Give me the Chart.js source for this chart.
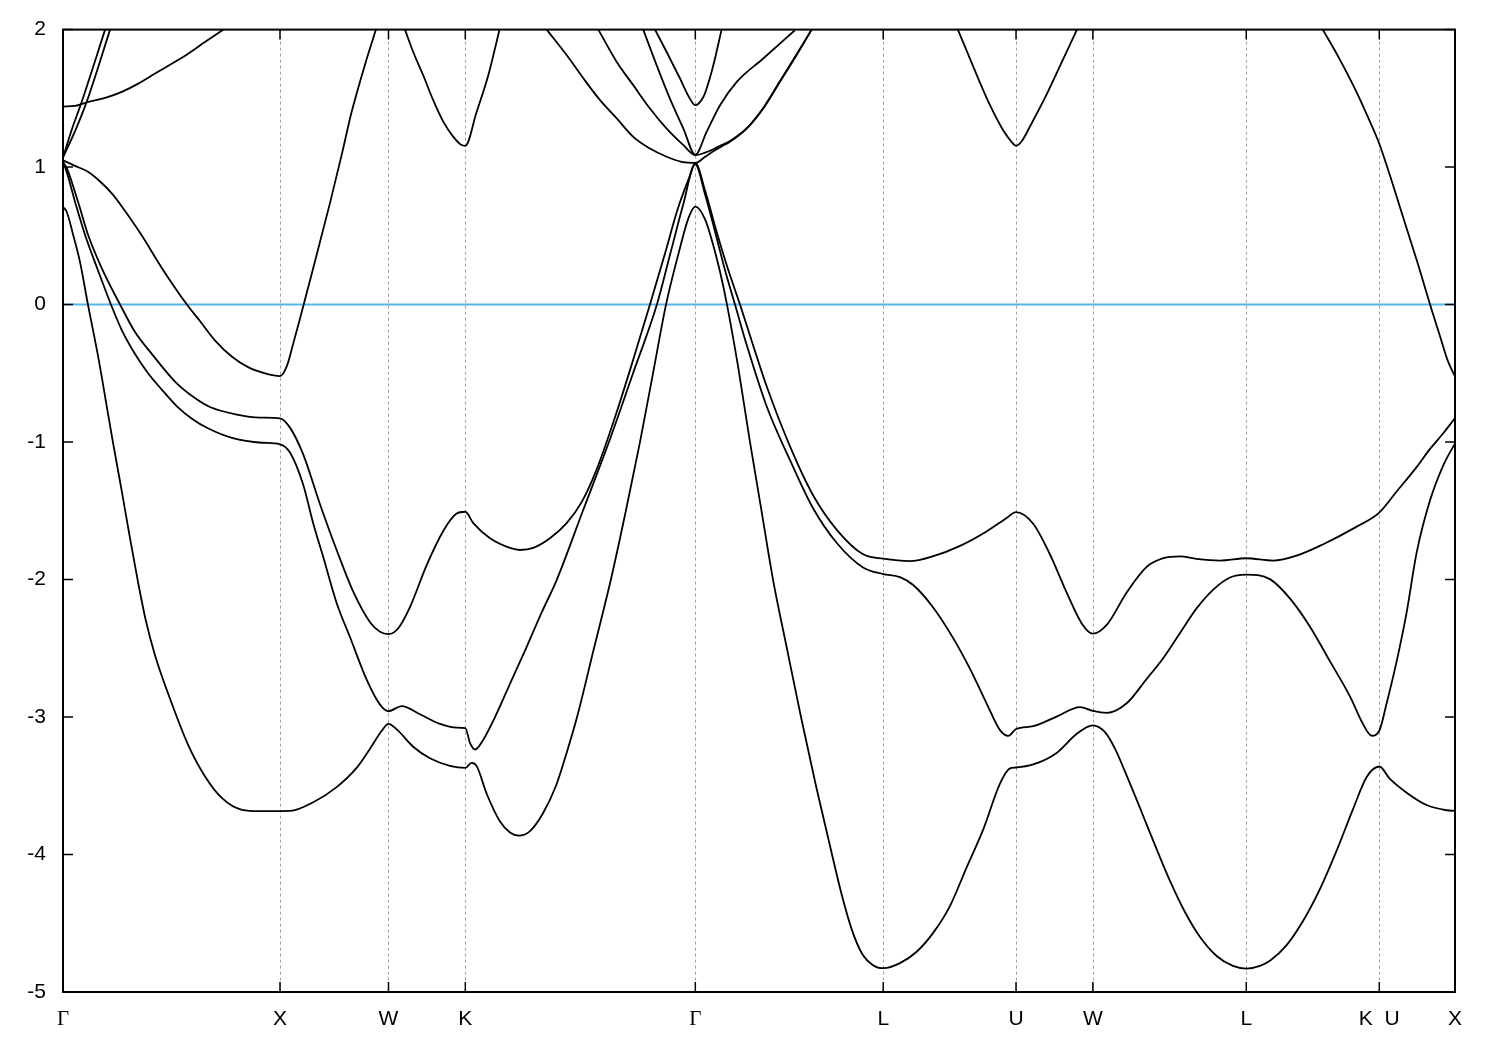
<!DOCTYPE html>
<html>
<head>
<meta charset="utf-8">
<title>Band structure</title>
<script src="https://cdn.jsdelivr.net/npm/chart.js@4.4.1/dist/chart.umd.min.js"></script>
<style>
  html, body { margin: 0; background: #fff; }
  #wrap { width: 1500px; height: 1050px; }
</style>
</head>
<body>
<div id="wrap"><canvas id="bands" width="1500" height="1050"></canvas></div>
<script>
'use strict';

// k-path (high symmetry points) and labels
const kTicks = [0, 1.0, 1.5, 1.854, 2.914, 3.78, 4.392, 4.746, 5.453, 6.066, 6.415];
const kLabels = ['Γ', 'X', 'W', 'K', 'Γ', 'L', 'U', 'W', 'L', 'K  U', 'X'];
const eMin = -5;
const eMax = 2;
const fermiLevel = 0;

// bands as [k, E] pairs
const band1 = [
  [0, 0.71], [0.017, 0.675], [0.047, 0.506], [0.078, 0.312], [0.115, 0.0], [0.161, -0.37],
  [0.207, -0.79], [0.23, -1.0], [0.27, -1.35], [0.309, -1.7], [0.346, -2.02], [0.382, -2.3],
  [0.424, -2.55], [0.501, -2.9], [0.576, -3.2], [0.654, -3.43], [0.733, -3.59], [0.825, -3.675],
  [0.908, -3.685], [1.0, -3.684],
  [1.046, -3.683], [1.153, -3.62], [1.261, -3.51], [1.353, -3.37], [1.415, -3.23], [1.469, -3.10],
  [1.5, -3.05], [1.538, -3.09], [1.614, -3.216], [1.691, -3.30], [1.783, -3.355], [1.854, -3.37],
  [1.883, -3.333], [1.906, -3.355], [1.953, -3.56], [2.014, -3.76], [2.06, -3.84], [2.101, -3.863],
  [2.152, -3.83], [2.212, -3.70], [2.272, -3.5], [2.323, -3.25], [2.369, -3.0], [2.447, -2.5],
  [2.525, -2.0], [2.594, -1.5], [2.659, -1.0], [2.719, -0.5], [2.779, 0.0], [2.843, 0.41],
  [2.882, 0.627], [2.914, 0.712],
  [2.959, 0.62], [2.997, 0.43], [3.035, 0.19], [3.06, 0.0], [3.111, -0.45], [3.166, -1.0],
  [3.217, -1.48], [3.272, -2.0], [3.336, -2.5], [3.401, -3.0], [3.47, -3.5], [3.544, -4.0],
  [3.59, -4.3], [3.636, -4.55], [3.682, -4.72], [3.733, -4.805], [3.78, -4.827],
  [3.857, -4.79], [3.934, -4.707], [4.011, -4.568], [4.088, -4.373], [4.164, -4.095], [4.241, -3.817],
  [4.318, -3.484], [4.364, -3.373], [4.392, -3.367], [4.471, -3.345], [4.579, -3.261], [4.671, -3.123],
  [4.746, -3.06], [4.802, -3.11], [4.848, -3.23], [4.903, -3.43], [4.963, -3.66], [5.032, -3.93],
  [5.101, -4.19], [5.171, -4.42], [5.24, -4.6], [5.318, -4.74], [5.392, -4.81], [5.453, -4.83],
  [5.516, -4.81], [5.562, -4.773], [5.639, -4.659], [5.716, -4.48], [5.793, -4.25], [5.87, -3.97],
  [5.946, -3.666], [6.008, -3.436], [6.066, -3.36], [6.115, -3.45], [6.192, -3.55], [6.284, -3.64],
  [6.376, -3.678], [6.415, -3.683]
];

const band2 = [
  [0, 1.03], [0.014, 0.98], [0.055, 0.75], [0.101, 0.51], [0.161, 0.25], [0.221, 0.0],
  [0.272, -0.19], [0.332, -0.36], [0.392, -0.5], [0.456, -0.62], [0.525, -0.74], [0.594, -0.83],
  [0.668, -0.9], [0.779, -0.97], [0.917, -1.005], [1.0, -1.016],
  [1.046, -1.076], [1.107, -1.31], [1.153, -1.59], [1.2, -1.84], [1.261, -2.17], [1.323, -2.42],
  [1.4, -2.73], [1.461, -2.91], [1.5, -2.958], [1.561, -2.92], [1.645, -2.98], [1.737, -3.05],
  [1.814, -3.077], [1.854, -3.08], [1.876, -3.19], [1.899, -3.236], [1.935, -3.17], [1.991, -3.0],
  [2.065, -2.74], [2.134, -2.5], [2.203, -2.25], [2.276, -2.0], [2.396, -1.5], [2.516, -1.0],
  [2.627, -0.5], [2.737, 0.0], [2.797, 0.36], [2.857, 0.72], [2.914, 1.02],
  [2.959, 0.8], [3.005, 0.53], [3.051, 0.25], [3.097, 0.0], [3.152, -0.3], [3.244, -0.745],
  [3.35, -1.13], [3.456, -1.48], [3.567, -1.736], [3.687, -1.912], [3.78, -1.96],
  [3.857, -1.983], [3.918, -2.04], [4.011, -2.205], [4.103, -2.428], [4.18, -2.65], [4.256, -2.90],
  [4.318, -3.095], [4.356, -3.137], [4.392, -3.087], [4.471, -3.067], [4.579, -2.997], [4.687, -2.928],
  [4.746, -2.956], [4.81, -2.97], [4.902, -2.90], [4.994, -2.723], [5.071, -2.57], [5.147, -2.39],
  [5.224, -2.21], [5.301, -2.073], [5.378, -1.985], [5.453, -1.964], [5.562, -1.997], [5.654, -2.137],
  [5.746, -2.341], [5.839, -2.595], [5.931, -2.85], [5.992, -3.054], [6.031, -3.136], [6.066, -3.10],
  [6.1, -2.90], [6.146, -2.595], [6.192, -2.24], [6.238, -1.806], [6.3, -1.424], [6.361, -1.169],
  [6.415, -1.01]
];

const band3 = [
  [0, 1.04], [0.018, 0.99], [0.069, 0.75], [0.115, 0.51], [0.18, 0.26], [0.263, 0.0],
  [0.332, -0.2], [0.41, -0.36], [0.516, -0.56], [0.608, -0.68], [0.677, -0.745], [0.802, -0.8],
  [0.908, -0.822], [1.0, -0.828],
  [1.046, -0.895], [1.107, -1.09], [1.184, -1.45], [1.261, -1.785], [1.338, -2.09], [1.415, -2.31],
  [1.461, -2.38], [1.5, -2.397], [1.545, -2.354], [1.599, -2.20], [1.676, -1.895], [1.753, -1.645],
  [1.814, -1.52], [1.854, -1.507], [1.891, -1.59], [1.968, -1.70], [2.06, -1.77], [2.106, -1.785],
  [2.167, -1.77], [2.244, -1.70], [2.321, -1.59], [2.39, -1.437], [2.459, -1.20], [2.552, -0.78],
  [2.628, -0.40], [2.705, 0.0], [2.774, 0.37], [2.834, 0.70], [2.885, 0.92], [2.914, 1.03],
  [2.959, 0.83], [3.005, 0.57], [3.06, 0.28], [3.12, 0.0], [3.175, -0.27], [3.244, -0.6],
  [3.35, -1.03], [3.456, -1.385], [3.567, -1.64], [3.687, -1.816], [3.78, -1.848],
  [3.903, -1.866], [4.011, -1.83], [4.134, -1.755], [4.256, -1.65], [4.349, -1.552], [4.392, -1.51],
  [4.471, -1.594], [4.548, -1.816], [4.625, -2.094], [4.694, -2.317], [4.746, -2.394], [4.81, -2.33],
  [4.902, -2.094], [4.994, -1.908], [5.071, -1.845], [5.147, -1.831], [5.224, -1.85], [5.332, -1.862],
  [5.453, -1.845], [5.577, -1.862], [5.685, -1.826], [5.808, -1.743], [5.962, -1.615], [6.066, -1.513],
  [6.146, -1.36], [6.238, -1.182], [6.3, -1.05], [6.359, -0.94], [6.415, -0.826]
];

// upper bands only show up in pieces below the top of the window
const band4a = [
  [0, 1.05], [0.055, 1.009], [0.115, 0.966], [0.161, 0.91], [0.23, 0.8], [0.286, 0.68],
  [0.364, 0.5], [0.456, 0.265], [0.571, 0.0], [0.631, -0.12], [0.7, -0.26], [0.779, -0.38],
  [0.853, -0.455], [0.931, -0.5], [1.0, -0.52], [1.031, -0.45], [1.061, -0.284], [1.092, -0.103],
  [1.153, 0.264], [1.23, 0.736], [1.284, 1.087], [1.33, 1.40], [1.4, 1.789], [1.442, 2.0]
];
const band4b = [
  [1.576, 2.0], [1.614, 1.837], [1.66, 1.668], [1.706, 1.487], [1.753, 1.329], [1.799, 1.22],
  [1.837, 1.16], [1.854, 1.155], [1.906, 1.40], [1.96, 1.668], [2.011, 1.995]
];
const band4c = [
  [2.229, 2.0], [2.321, 1.815], [2.398, 1.646], [2.475, 1.487], [2.552, 1.354], [2.628, 1.22],
  [2.705, 1.135], [2.782, 1.075], [2.851, 1.038], [2.914, 1.03], [2.959, 1.075], [2.997, 1.115],
  [3.035, 1.15], [3.074, 1.185], [3.151, 1.28], [3.227, 1.426], [3.304, 1.62], [3.381, 1.815],
  [3.45, 2.0]
];
const band4d = [
  [4.124, 2.0], [4.203, 1.70], [4.272, 1.45], [4.332, 1.27], [4.373, 1.18], [4.392, 1.155],
  [4.419, 1.19], [4.461, 1.31], [4.521, 1.49], [4.59, 1.72], [4.673, 2.0]
];
const band4e = [
  [5.806, 2.0], [5.885, 1.78], [5.963, 1.54], [6.023, 1.33], [6.066, 1.17], [6.115, 0.94],
  [6.161, 0.71], [6.207, 0.48], [6.253, 0.25], [6.3, 0.0], [6.346, -0.23], [6.382, -0.41],
  [6.415, -0.523]
];
const band5a = [[0, 1.07], [0.04, 1.27], [0.086, 1.474], [0.194, 2.0]];
const band5b = [
  [2.467, 2.0], [2.552, 1.765], [2.628, 1.596], [2.705, 1.426], [2.782, 1.28], [2.859, 1.16],
  [2.914, 1.087], [2.959, 1.105], [2.997, 1.13], [3.035, 1.16], [3.074, 1.19], [3.151, 1.283],
  [3.227, 1.43], [3.304, 1.624], [3.381, 1.82], [3.45, 2.0]
];
const band6a = [[0, 1.07], [0.055, 1.26], [0.109, 1.474], [0.217, 2.0]];
const band6b = [
  [2.674, 2.0], [2.736, 1.74], [2.797, 1.498], [2.859, 1.28], [2.914, 1.09], [2.966, 1.256],
  [3.028, 1.45], [3.105, 1.62], [3.227, 1.79], [3.373, 1.995]
];
const band7a = [
  [0, 1.44], [0.055, 1.445], [0.088, 1.46], [0.117, 1.474], [0.194, 1.503], [0.271, 1.547],
  [0.347, 1.607], [0.424, 1.68], [0.501, 1.752], [0.577, 1.825], [0.654, 1.909], [0.739, 2.0]
];
const band7b = [
  [2.728, 2.0], [2.782, 1.837], [2.843, 1.646], [2.889, 1.498], [2.914, 1.45], [2.951, 1.51],
  [2.966, 1.57], [2.997, 1.74], [3.035, 2.0]
];

const allBands = [band1, band2, band3, band4a, band4b, band4c, band4d, band4e,
  band5a, band5b, band6a, band6b, band7a, band7b];

// frame, inward ticks and dashed lines at the symmetry points
const frameAndTicks = {
  id: 'frameAndTicks',
  beforeDatasetsDraw(chart) {
    const { ctx, chartArea: a, scales: { x } } = chart;
    ctx.save();
    ctx.strokeStyle = '#a0a0a0';
    ctx.lineWidth = 1;
    ctx.setLineDash([3, 3]);
    kTicks.slice(1, -1).forEach(v => {
      const px = Math.round(x.getPixelForValue(v)) + 0.5;
      ctx.beginPath();
      ctx.moveTo(px, a.top);
      ctx.lineTo(px, a.bottom);
      ctx.stroke();
    });
    ctx.restore();
  },
  afterDatasetsDraw(chart) {
    const { ctx, chartArea: a, scales: { x, y } } = chart;
    ctx.save();
    ctx.strokeStyle = '#000';
    ctx.lineWidth = 1.5;
    ctx.beginPath();
    y.ticks.forEach(t => {
      const py = y.getPixelForValue(t.value);
      ctx.moveTo(a.left, py);
      ctx.lineTo(a.left + 10, py);
      ctx.moveTo(a.right, py);
      ctx.lineTo(a.right - 10, py);
    });
    kTicks.slice(1, -1).forEach(v => {
      const px = x.getPixelForValue(v);
      ctx.moveTo(px, a.bottom);
      ctx.lineTo(px, a.bottom - 10);
      ctx.moveTo(px, a.top);
      ctx.lineTo(px, a.top + 10);
    });
    ctx.stroke();
    ctx.lineWidth = 2;
    ctx.strokeRect(a.left, a.top, a.right - a.left, a.bottom - a.top);
    ctx.restore();
  }
};

let datasets = allBands.map(b => ({
  data: b.map(p => ({ x: p[0], y: p[1] })),
  showLine: true,
  borderColor: '#000',
  borderWidth: 1.8,
  pointRadius: 0,
  cubicInterpolationMode: 'monotone',
  order: 0
}));

datasets.push({
  data: [{ x: kTicks[0], y: fermiLevel }, { x: kTicks[kTicks.length - 1], y: fermiLevel }],
  showLine: true,
  borderColor: '#56b4e9',
  borderWidth: 2,
  pointRadius: 0,
  order: 1
});

let ctx = document.getElementById('bands').getContext('2d');
const bandChart = new Chart(ctx, {
  type: 'scatter',
  data: { datasets: datasets },
  options: {
    responsive: false,
    animation: false,
    devicePixelRatio: 1,
    layout: { padding: { top: 28, right: 45, left: 0, bottom: 0 } },
    plugins: {
      legend: { display: false },
      tooltip: { enabled: false }
    },
    scales: {
      x: {
        type: 'linear',
        min: kTicks[0],
        max: kTicks[kTicks.length - 1],
        afterBuildTicks: scale => { scale.ticks = kTicks.map(v => ({ value: v })); },
        afterFit: scale => { scale.height = 58; },
        grid: { display: false, drawTicks: false },
        border: { display: false },
        ticks: {
          autoSkip: false,
          maxRotation: 0,
          padding: 15,
          color: '#000',
          font: c => ({
            family: kLabels[c.index] === 'Γ' ? 'Liberation Serif' : 'Liberation Sans',
            size: 21
          }),
          callback: (value, index) => kLabels[index]
        }
      },
      y: {
        min: eMin,
        max: eMax,
        afterFit: scale => { scale.width = 63; },
        grid: { display: false, drawTicks: false },
        border: { display: false },
        ticks: {
          stepSize: 1,
          padding: 17,
          color: '#000',
          font: { family: 'Liberation Sans', size: 21 },
          callback: value => String(value)
        }
      }
    }
  },
  plugins: [frameAndTicks]
});
</script>
</body>
</html>
